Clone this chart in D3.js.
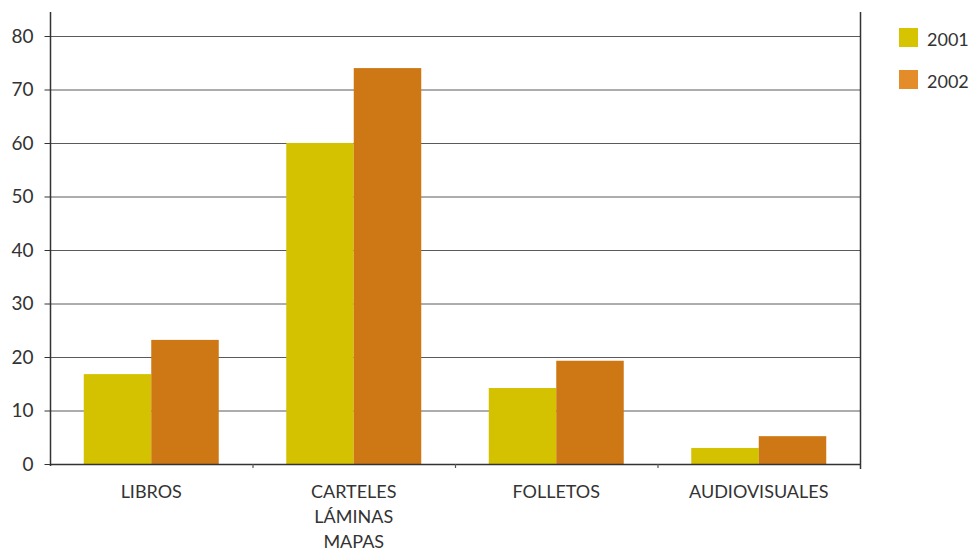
<!DOCTYPE html>
<html><head><meta charset="utf-8">
<script src="https://cdn.jsdelivr.net/npm/d3@7"></script>
<style>body{margin:0;background:#fff}svg{display:block}text{font-family:Lato,"Open Sans",sans-serif;fill:#333}</style>
</head><body>
<svg id="c" width="970" height="551"></svg>
<script>
const categories = [["LIBROS"], ["CARTELES","LÁMINAS","MAPAS"], ["FOLLETOS"], ["AUDIOVISUALES"]];
const seriesNames = ["2001", "2002"];
const values2001 = [16.8, 60, 14.2, 3.0];
const values2002 = [23.2, 74, 19.3, 5.2];
const yTicks = [0,10,20,30,40,50,60,70,80];
const barColors = ["#D4C100", "#CD7815"];
const legendColors = ["#D6C400", "#E38C29"];

const svg = d3.select("#c");
const L = 50, R = 860, T = 36, B = 464;
const x0 = d3.scaleBand().domain(d3.range(categories.length)).range([L, R]).padding(0);
const x1 = d3.scaleBand().domain([0,1]).range([x0.bandwidth()/6, x0.bandwidth()*5/6]).padding(0);
const y = d3.scaleLinear().domain([0, 80]).range([B, T]);

// gridlines
svg.append("g").selectAll("line").data(yTicks.slice(1)).join("line")
  .attr("x1", L).attr("x2", R).attr("y1", d=>y(d)+0.5).attr("y2", d=>y(d)+0.5)
  .attr("stroke", "#5a5a5a").attr("stroke-width", 1);

// bars
const data = categories.map((c,i)=>[values2001[i], values2002[i]]);
svg.append("g").selectAll("g").data(data).join("g")
  .attr("transform", (d,i)=>`translate(${x0(i)},0)`)
  .selectAll("rect").data(d=>d).join("rect")
  .attr("x", (d,j)=>x1(j)).attr("width", x1.bandwidth())
  .attr("y", d=>y(d)).attr("height", d=>B - y(d))
  .attr("fill", (d,j)=>barColors[j]);

// left axis
const ya = d3.axisLeft(y).tickValues(yTicks).tickSize(6).tickPadding(11);
const gy = svg.append("g").attr("transform", `translate(${L+0.5},0)`).call(ya);
gy.select(".domain").remove();
gy.selectAll(".tick line").attr("stroke", "#333");
gy.selectAll(".tick text").attr("font-size", 19).attr("fill", "#333").style("font-family","Lato,sans-serif");
svg.append("line").attr("x1", L+0.5).attr("x2", L+0.5).attr("y1", 12).attr("y2", B+2).attr("stroke", "#333").attr("stroke-width", 1.5);
svg.append("line").attr("x1", R+0.5).attr("x2", R+0.5).attr("y1", 12).attr("y2", B+5).attr("stroke", "#333").attr("stroke-width", 1.5);

// bottom axis
svg.append("line").attr("x1", L).attr("x2", R).attr("y1", B+0.5).attr("y2", B+0.5).attr("stroke", "#333").attr("stroke-width", 1.5);
svg.append("g").selectAll("line").data(d3.range(1, categories.length)).join("line")
  .attr("x1", i=>x0(i)+0.5).attr("x2", i=>x0(i)+0.5).attr("y1", B).attr("y2", B+4)
  .attr("stroke", "#555").attr("stroke-width", 1.2);

// category labels
svg.append("g").selectAll("text").data(categories).join("text")
  .attr("text-anchor", "middle").attr("font-size", 18)
  .attr("transform", (d,i)=>`translate(${x0(i)+x0.bandwidth()/2},${B+34})`)
  .selectAll("tspan").data(d=>d).join("tspan")
  .attr("x", 0).attr("dy", (d,k)=>k===0?0:25).text(d=>d);

// legend
const lg = svg.append("g").selectAll("g").data(seriesNames).join("g")
  .attr("transform", (d,i)=>`translate(899,${28+i*42})`);
lg.append("rect").attr("width", 19).attr("height", 19).attr("fill", (d,i)=>legendColors[i]);
lg.append("text").attr("x", 28).attr("y", 18).attr("font-size", 18).text(d=>d);
</script>
</body></html>
